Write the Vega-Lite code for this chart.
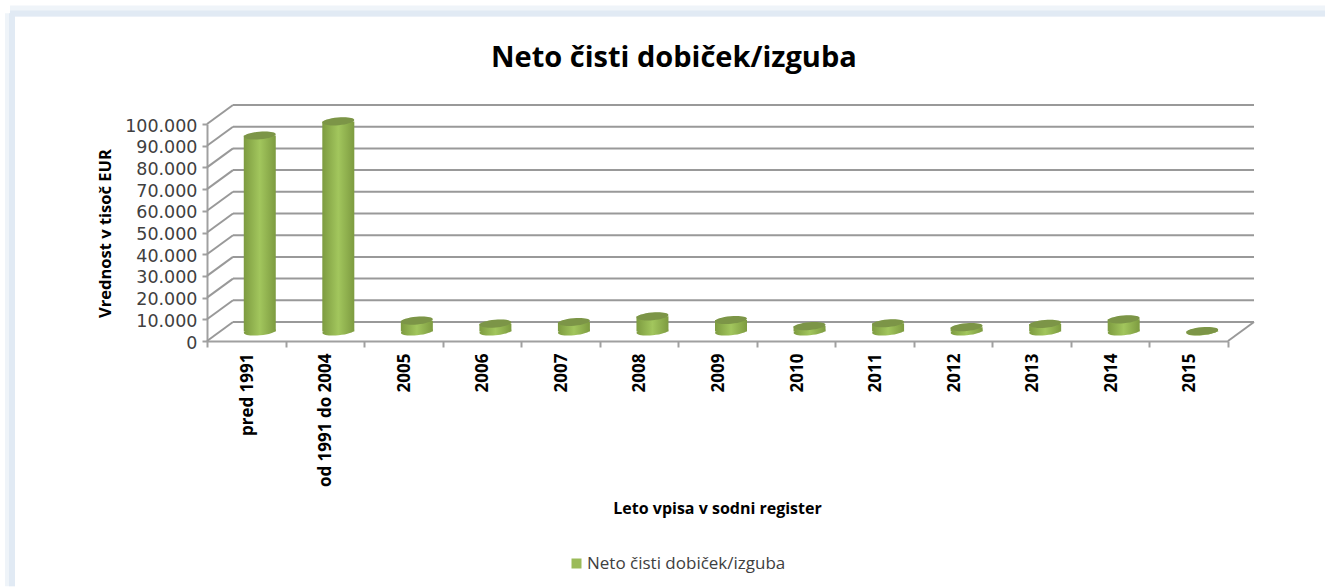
{"$schema":"https://vega.github.io/schema/vega-lite/v6.json","width":1021,"height":217,"autosize":{"type":"none"},"padding":{"left":207,"top":124,"right":97,"bottom":247},"background":"white",
"title":{"text":"Neto čisti dobiček/izguba","anchor":"start","frame":"group","dx":284,"offset":-68,"font":"Open Sans","fontSize":29,"fontWeight":"bold","color":"#000000"},
"config":{"view":{"stroke":null}},
"datasets":{"main":[{"kat":"pred 1991","vrednost":90300,"serie":"Neto čisti dobiček/izguba"},{"kat":"od 1991 do 2004","vrednost":96800,"serie":"Neto čisti dobiček/izguba"},{"kat":"2005","vrednost":5000,"serie":"Neto čisti dobiček/izguba"},{"kat":"2006","vrednost":3600,"serie":"Neto čisti dobiček/izguba"},{"kat":"2007","vrednost":4400,"serie":"Neto čisti dobiček/izguba"},{"kat":"2008","vrednost":7000,"serie":"Neto čisti dobiček/izguba"},{"kat":"2009","vrednost":5300,"serie":"Neto čisti dobiček/izguba"},{"kat":"2010","vrednost":2500,"serie":"Neto čisti dobiček/izguba"},{"kat":"2011","vrednost":3800,"serie":"Neto čisti dobiček/izguba"},{"kat":"2012","vrednost":2000,"serie":"Neto čisti dobiček/izguba"},{"kat":"2013","vrednost":3500,"serie":"Neto čisti dobiček/izguba"},{"kat":"2014","vrednost":5600,"serie":"Neto čisti dobiček/izguba"},{"kat":"2015","vrednost":200,"serie":"Neto čisti dobiček/izguba"}],
"grid":[{"level":0},{"level":10000},{"level":20000},{"level":30000},{"level":40000},{"level":50000},{"level":60000},{"level":70000},{"level":80000},{"level":90000},{"level":100000}]},
"resolve":{"scale":{"x":"independent"}},
"layer":[
{"mark":{"type":"rule","color":"#eff4f9","strokeWidth":10},"data":{"values":[{"a":1}]},"encoding":{"x":{"datum":-2.508,"type":"quantitative","scale":{"domain":[0,13]},"axis":null},"y":{"datum":151000,"type":"quantitative","scale":{"domain":[0,100000]},"axis":{"values":[0,10000,20000,30000,40000,50000,60000,70000,80000,90000,100000],"tickCount":11,"labelOverlap":false,"labelOffset":2,"labelExpr":"replace(format(datum.value,','),',','.')","grid":false,"domainColor":"#a0a0a0","domainWidth":2,"tickColor":"#a0a0a0","tickWidth":2,"tickSize":5,"labelPadding":5,"labelFont":"DejaVu Sans","labelFontSize":17.5,"labelColor":"#404040","title":"Vrednost v tisoč EUR","titleFont":"Open Sans","titleFontSize":16.5,"titleFontWeight":"bold","titleColor":"#000000","titleX":-94,"titleY":109}},"y2":{"datum":-113000}}},
{"mark":{"type":"rule","color":"#eff4f9","strokeWidth":11},"data":{"values":[{"a":1}]},"encoding":{"x":{"datum":-2.508,"type":"quantitative","scale":{"domain":[0,13]},"axis":null},"x2":{"datum":14.3},"y":{"datum":152074,"type":"quantitative"}}},
{"mark":{"type":"rule","color":"#e1eaf4","strokeWidth":6},"data":{"values":[{"a":1}]},"encoding":{"x":{"datum":-2.483,"type":"quantitative","scale":{"domain":[0,13]},"axis":null},"y":{"datum":151000,"type":"quantitative"},"y2":{"datum":-113000}}},
{"mark":{"type":"rule","color":"#e1eaf4","strokeWidth":6},"data":{"values":[{"a":1}]},"encoding":{"x":{"datum":-2.508,"type":"quantitative","scale":{"domain":[0,13]},"axis":null},"x2":{"datum":14.3},"y":{"datum":150922,"type":"quantitative"}}},
{"data":{"name":"grid"},"mark":{"type":"rule","color":"#999999","strokeWidth":2,"xOffset":26,"x2Offset":26,"yOffset":-19,"y2Offset":-19},"encoding":{"x":{"datum":0,"type":"quantitative","scale":{"domain":[0,13]},"axis":null},"x2":{"datum":13},"y":{"field":"level","type":"quantitative"},"y2":{"field":"level"}}},
{"data":{"name":"grid"},"mark":{"type":"rule","color":"#999999","strokeWidth":2,"x2Offset":26,"y2Offset":-19},"encoding":{"x":{"datum":0,"type":"quantitative","scale":{"domain":[0,13]},"axis":null},"x2":{"datum":0},"y":{"field":"level","type":"quantitative"},"y2":{"field":"level"}}},
{"data":{"values":[{"level":0}]},"mark":{"type":"rule","color":"#999999","strokeWidth":2,"x2Offset":26,"y2Offset":-19},"encoding":{"x":{"datum":13,"type":"quantitative","scale":{"domain":[0,13]},"axis":null},"x2":{"datum":13},"y":{"field":"level","type":"quantitative"},"y2":{"field":"level"}}},
{"data":{"name":"main"},"mark":{"type":"point","filled":true,"opacity":1,"shape":"M -0.9962 0.0872 A 1 0.24 -5 1 0 0.9962 -0.0872 A 1 0.24 -5 1 0 -0.9962 0.0872 Z","size":1024,"xOffset":13.5,"yOffset":-9.5,"fill":{"gradient":"linear","x1":0,"x2":1,"y1":0,"y2":0,"stops":[{"offset":0,"color":"#7d9b40"},{"offset":0.5,"color":"#a2c65d"},{"offset":1,"color":"#7d9b40"}]}},"encoding":{"x":{"field":"kat","type":"nominal","sort":null,"scale":{"paddingInner":0,"paddingOuter":0},"axis":null},"y":{"datum":0,"type":"quantitative"}}},
{"data":{"name":"main"},"mark":{"type":"bar","width":32,"xOffset":13.5,"yOffset":-9.5,"y2Offset":-9.5,"fill":{"gradient":"linear","x1":0,"x2":1,"y1":0,"y2":0,"stops":[{"offset":0,"color":"#7d9b40"},{"offset":0.5,"color":"#a2c65d"},{"offset":1,"color":"#7d9b40"}]}},"encoding":{"x":{"field":"kat","type":"nominal","sort":null,"scale":{"paddingInner":0,"paddingOuter":0},"axis":{"tickBand":"extent","title":"Leto vpisa v sodni register","titleFont":"Open Sans","titleFontSize":16,"titleFontWeight":"bold","titleColor":"#000000","titleX":510,"titleY":159,"labelAngle":-90,"labelAlign":"right","labelBaseline":"middle","labelPadding":6,"labelOffset":1,"labelFont":"Open Sans","labelFontSize":17,"labelFontWeight":"bold","labelColor":"#000000","domainColor":"#a0a0a0","domainWidth":2,"tickColor":"#a0a0a0","tickWidth":2,"tickSize":6,"labelLimit":200}},"y":{"field":"vrednost","type":"quantitative"},"y2":{"datum":0}}},
{"data":{"name":"main"},"mark":{"type":"point","filled":true,"opacity":1,"shape":"M -0.9962 0.0872 A 1 0.24 -5 1 1 0.9962 -0.0872 A 1 0.24 -5 1 1 -0.9962 0.0872 Z","size":1024,"xOffset":13.5,"yOffset":-9.5},"encoding":{"x":{"field":"kat","type":"nominal","sort":null,"scale":{"paddingInner":0,"paddingOuter":0},"axis":null},"y":{"field":"vrednost","type":"quantitative"},"color":{"field":"serie","type":"nominal","scale":{"range":["#9bbb59"]},"legend":{"orient":"none","legendX":361,"legendY":431,"title":null,"symbolType":"square","symbolSize":100,"labelOffset":2,"labelFont":"Open Sans","labelFontSize":17,"labelColor":"#404040","labelLimit":300}}}},
{"data":{"name":"main"},"mark":{"type":"point","filled":true,"opacity":0.2,"color":"#000000","shape":"M -0.9962 0.0872 A 1 0.24 -5 1 1 0.9962 -0.0872 A 1 0.24 -5 1 1 -0.9962 0.0872 Z","size":1024,"xOffset":13.5,"yOffset":-9.5},"encoding":{"x":{"field":"kat","type":"nominal","sort":null,"scale":{"paddingInner":0,"paddingOuter":0},"axis":null},"y":{"field":"vrednost","type":"quantitative"}}}
]}
